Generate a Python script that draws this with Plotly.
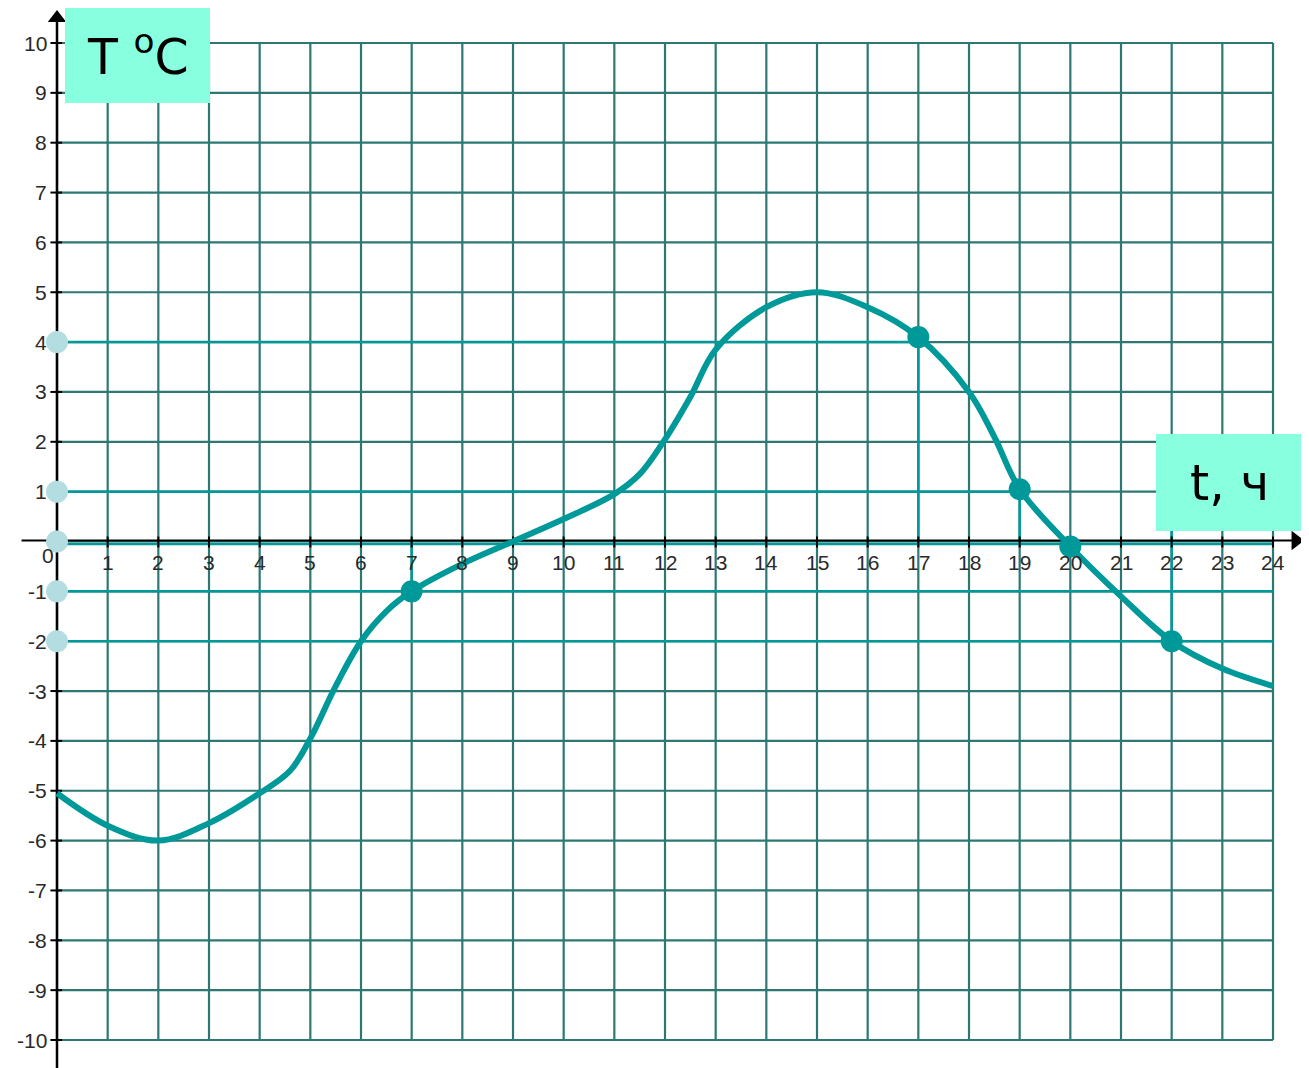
import plotly.graph_objects as go

# ---- data ----
hours = [0, 1, 2, 3, 4, 4.6, 5, 5.5, 6, 6.5, 7, 8, 9, 10, 11, 11.5, 12, 12.5, 13, 14,
         15, 16, 17, 18, 18.5, 19, 20, 21, 22, 23, 24]
temps = [-5.05, -5.7, -6.0, -5.65, -5.05, -4.6, -3.95, -2.9, -2.0, -1.4, -1.0, -0.45,
         0.0, 0.45, 0.95, 1.35, 2.05, 2.9, 3.85, 4.7, 5.0, 4.7, 4.1, 3.0, 2.1, 1.05,
         -0.1, -1.1, -2.0, -2.55, -2.9]
key_hours = [7, 17, 19, 20, 22]
key_temps = [-1, 4.1, 1.05, -0.1, -2]
axis_marks = [4, 1, 0, -1, -2]
x_ticks = list(range(0, 25))
y_ticks = list(range(-10, 11))

OFF = 8  # page body margin
W, H = 1309 - OFF, 1068 - OFF
GRID = "#2d7873"
TEAL = "#009999"


def px(v):
    return v - OFF


fig = go.Figure()

shapes = []
for x in x_ticks:
    shapes.append(dict(type="line", xref="x", yref="y", x0=x, x1=x, y0=-10, y1=10,
                       line=dict(color=GRID, width=2.2), layer="below"))
for y in y_ticks:
    shapes.append(dict(type="line", xref="x", yref="y", x0=0, x1=24, y0=y, y1=y,
                       line=dict(color=GRID, width=2.2), layer="below"))
guides_h = [(4, 0, 17), (1, 0, 19), (-1, 0, 24), (-2, 0, 24)]
for y, xa, xb in guides_h:
    shapes.append(dict(type="line", xref="x", yref="y", x0=xa, x1=xb, y0=y, y1=y,
                       line=dict(color=TEAL, width=2.5), layer="below"))
shapes.append(dict(type="line", xref="x", yref="y", x0=0, x1=24, y0=-0.05, y1=-0.05,
                   line=dict(color=TEAL, width=2.5), layer="below"))
guides_v = [(7, -1, 0), (17, 4, 0), (19, 1, 0), (22, -2, 0.25)]
for x, ya, yb in guides_v:
    shapes.append(dict(type="line", xref="x", yref="y", x0=x, x1=x, y0=ya, y1=yb,
                       line=dict(color=TEAL, width=2.5), layer="below"))
shapes.append(dict(type="line", xref="x", yref="y", x0=0, x1=0, y0=-10.8, y1=10.45,
                   line=dict(color="black", width=2.5), layer="below"))
shapes.append(dict(type="line", xref="x", yref="y", x0=-0.7, x1=24.4, y0=0.02, y1=0.02,
                   line=dict(color="black", width=2), layer="below"))
for y in y_ticks:
    shapes.append(dict(type="line", xref="x", yref="y", x0=-0.13, x1=0.1, y0=y, y1=y,
                       line=dict(color="black", width=2), layer="below"))
for x in x_ticks[1:]:
    shapes.append(dict(type="line", xref="x", yref="y", x0=x, x1=x, y0=-0.12, y1=0.1,
                       line=dict(color="black", width=2), layer="below"))
shapes.append(dict(type="rect", xref="paper", yref="paper",
                   x0=px(65) / W, x1=px(210) / W, y0=1 - px(103) / H, y1=1 - px(6) / H,
                   fillcolor="#88ffdf", line=dict(width=0), layer="above"))
shapes.append(dict(type="rect", xref="paper", yref="paper",
                   x0=px(1156) / W, x1=px(1302) / W, y0=1 - px(531) / H, y1=1 - px(434) / H,
                   fillcolor="#88ffdf", line=dict(width=0), layer="above"))

fig.add_trace(go.Scatter(x=hours, y=temps, mode="lines",
                         line=dict(color=TEAL, width=6, shape="spline", smoothing=1.0),
                         hoverinfo="skip"))
fig.add_trace(go.Scatter(x=[0] * len(axis_marks), y=axis_marks, mode="markers",
                         marker=dict(color="#b3dde0", size=22), hoverinfo="skip"))
fig.add_trace(go.Scatter(x=key_hours, y=key_temps, mode="markers",
                         marker=dict(color=TEAL, size=22), hoverinfo="skip"))
fig.add_trace(go.Scatter(x=[0], y=[10.5], mode="markers",
                         marker=dict(symbol="triangle-up", color="black", size=16),
                         hoverinfo="skip"))
fig.add_trace(go.Scatter(x=[24.45], y=[0.02], mode="markers",
                         marker=dict(symbol="triangle-right", color="black", size=17),
                         hoverinfo="skip"))

annotations = []
tick_font = dict(family="Liberation Sans, Arial", size=21, color="#2a2a2a")
for y in y_ticks:
    if y == 0:
        continue
    annotations.append(dict(x=0, y=y, xref="x", yref="y", text=str(y), showarrow=False,
                            xanchor="right", yanchor="middle", xshift=-8, font=tick_font))
for x in x_ticks:
    if x == 0:
        annotations.append(dict(x=0, y=0, xref="x", yref="y", text="0", showarrow=False,
                                xanchor="right", yanchor="top", xshift=-1, yshift=0,
                                font=tick_font))
    else:
        annotations.append(dict(x=x, y=0, xref="x", yref="y", text=str(x), showarrow=False,
                                xanchor="center", yanchor="top", yshift=-7, font=tick_font))

label_font = dict(family="DejaVu Sans, Verdana", size=49, color="black")
annotations.append(dict(x=px(138) / W, y=1 - px(54) / H, xref="paper", yref="paper",
                        text="T <sup>o</sup>C", showarrow=False,
                        xanchor="center", yanchor="middle", font=label_font))
annotations.append(dict(x=px(1229) / W, y=1 - px(483) / H, xref="paper", yref="paper",
                        text="t, ч", showarrow=False,
                        xanchor="center", yanchor="middle", font=label_font))

sx = (1273 - 57) / 24
sy = (1040 - 43) / 20
x_lo = -px(57) / sx
x_hi = x_lo + W / sx
y_hi = 10 + px(43) / sy
y_lo = y_hi - H / sy

fig.update_layout(
    width=W, height=H,
    margin=dict(l=0, r=0, t=0, b=0),
    paper_bgcolor="white", plot_bgcolor="white",
    showlegend=False,
    shapes=shapes,
    annotations=annotations,
    xaxis=dict(range=[x_lo, x_hi], visible=False, fixedrange=True),
    yaxis=dict(range=[y_lo, y_hi], visible=False, fixedrange=True),
)

fig.write_html("out.html")
